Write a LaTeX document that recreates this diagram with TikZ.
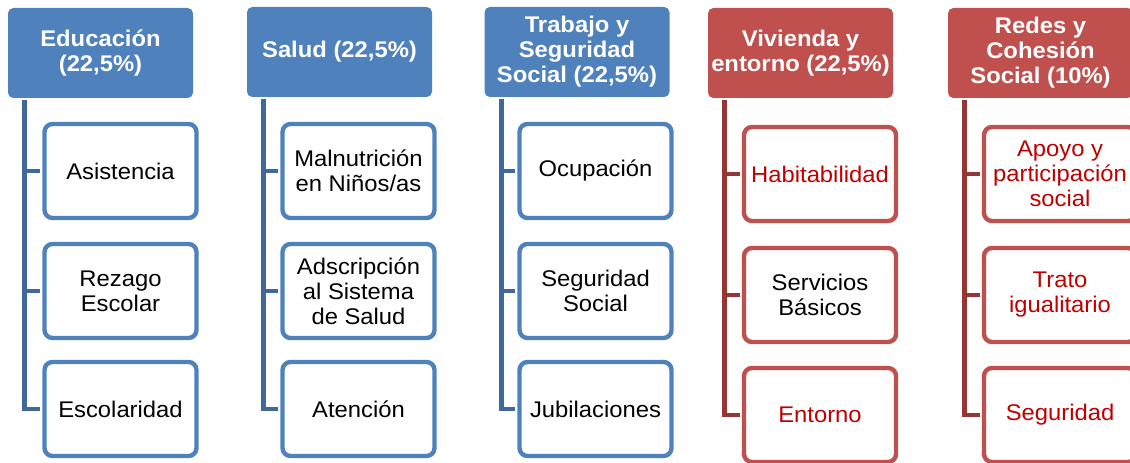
\documentclass[tikz,border=0pt]{standalone}
\usepackage{fontspec}
\setmainfont{Liberation Sans}[FakeStretch=1.05]
\definecolor{azul}{HTML}{4F81BD}
\definecolor{azuloscuro}{HTML}{41689A}
\definecolor{rojo}{HTML}{C0504D}
\definecolor{rojooscuro}{HTML}{943634}
\definecolor{textorojo}{HTML}{C00000}
\tikzset{
	titulo/.style={fill=#1,rounded corners=4pt,text=white,align=center,inner sep=2pt,
		minimum width=138.75pt,minimum height=67.5pt,font=\bfseries\fontsize{17}{18.75}\selectfont},
	hoja/.style={draw=#1,fill=white,line width=3.3pt,rounded corners=6pt,align=center,inner sep=2pt,
		minimum width=114pt,minimum height=70.5pt,font=\fontsize{17}{18.75}\selectfont},
	hojaroja/.style={hoja=rojo,text=textorojo},
	rama/.style={draw=#1,line width=3.4pt,shorten >=1.5pt}
}
\begin{document}
\begin{tikzpicture}[x=0.75pt,y=-0.75pt]
			\useasboundingbox (0,0) rectangle (1130,463);
			% titulos
			\node[titulo=azul] (edu) at (100.5,53) {Educación\\(22,5\%)};
			\node[titulo=azul] (sal) at (339.5,52) {Salud (22,5\%)};
			\node[titulo=azul] (tra) at (577,52) {Trabajo y\\Seguridad\\Social (22,5\%)};
			\node[titulo=rojo] (viv) at (800.5,53) {Vivienda y\\entorno (22,5\%)};
			\node[titulo=rojo] (red) at (1040.5,53) {Redes y\\Cohesión\\Social (10\%)};
			% indicadores
			\node[hoja=azul] (edu1) at (120.5,171) {Asistencia};
			\node[hoja=azul] (edu2) at (120.5,291) {Rezago\\Escolar};
			\node[hoja=azul] (edu3) at (120.5,409) {Escolaridad};
			\node[hoja=azul] (sal1) at (358.5,171) {Malnutrición\\en Niños/as};
			\node[hoja=azul] (sal2) at (358.5,291) {Adscripción\\al Sistema\\de Salud};
			\node[hoja=azul] (sal3) at (358.5,409) {Atención};
			\node[hoja=azul] (tra1) at (595.5,171) {Ocupación};
			\node[hoja=azul] (tra2) at (595.5,291) {Seguridad\\Social};
			\node[hoja=azul] (tra3) at (595.5,409) {Jubilaciones};
			\node[hojaroja] (viv1) at (820,174) {Habitabilidad};
			\node[hojaroja,text=black] (viv2) at (820,295) {Servicios\\Básicos};
			\node[hojaroja] (viv3) at (820,415) {Entorno};
			\node[hojaroja] (red1) at (1060,174) {Apoyo y\\participación\\social};
			\node[hojaroja] (red2) at (1060,295) {Trato\\igualitario};
			\node[hojaroja] (red3) at (1060,415) {Seguridad};
			% ramas
			\foreach \g/\c in {edu/azuloscuro,sal/azuloscuro,tra/azuloscuro,viv/rojooscuro,red/rojooscuro}{
				\coordinate (l\g) at ([xshift=12.75pt,yshift=-1.5pt]\g.south west);
				\draw[rama=\c] (l\g) |- (\g3.west);
				\foreach \i in {1,2} \draw[rama=\c] (\g\i.west -| l\g) -- (\g\i.west);
			}
		\end{tikzpicture}
\end{document}
